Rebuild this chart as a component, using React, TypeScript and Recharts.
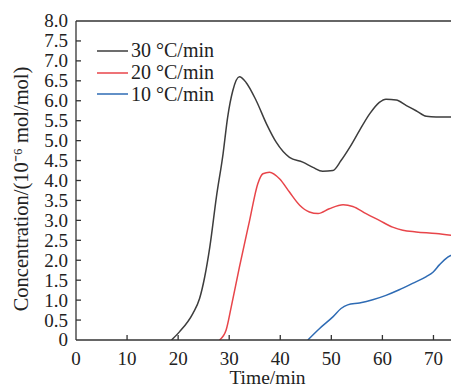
import React from 'react';
import { LineChart, Line, XAxis, YAxis, Legend, ReferenceLine } from 'recharts';

const time30 = [18.7, 20.3, 22.9, 24.2, 25.2, 26.2, 27.5, 28.8, 29.7, 30.7, 32.0, 33.3, 35.3, 37.3, 39.2, 41.8, 44.4, 46.4, 48.3, 50.3, 51.9, 53.6, 55.5, 57.5, 59.4, 60.7, 62.7, 64.7, 66.6, 68.6, 70.5, 75];
const conc30 = [0, 0.21, 0.67, 1.04, 1.58, 2.33, 3.59, 4.67, 5.59, 6.25, 6.6, 6.46, 6.0, 5.42, 4.96, 4.58, 4.46, 4.33, 4.23, 4.25, 4.5, 4.83, 5.25, 5.67, 5.96, 6.04, 6.02, 5.88, 5.75, 5.61, 5.59, 5.59];

const time20 = [28.1, 29.4, 30.4, 32.0, 34.0, 35.6, 36.6, 37.9, 39.9, 41.8, 43.8, 45.7, 47.4, 49.6, 52.3, 54.2, 56.8, 59.4, 62.0, 64.0, 66.6, 70.5, 75];
const conc20 = [0, 0.25, 0.83, 1.83, 3.0, 3.92, 4.17, 4.21, 4.04, 3.71, 3.38, 3.21, 3.17, 3.29, 3.39, 3.35, 3.17, 3.0, 2.83, 2.75, 2.71, 2.67, 2.6];

const time10 = [45.4, 47.7, 50.3, 51.9, 53.2, 55.5, 58.1, 60.7, 63.3, 65.9, 68.6, 69.9, 71.2, 72.8, 75];
const conc10 = [0, 0.29, 0.58, 0.79, 0.88, 0.93, 1.01, 1.12, 1.26, 1.42, 1.59, 1.7, 1.89, 2.08, 2.18];

const seriesNames = ['30 °C/min', '20 °C/min', '10 °C/min'];
const seriesColors = ['#3d3d3d', '#e8454a', '#2e6bb4'];

const xTicks = [0, 10, 20, 30, 40, 50, 60, 70];
const yTicks = [0, 0.5, 1, 1.5, 2, 2.5, 3, 3.5, 4, 4.5, 5, 5.5, 6, 6.5, 7, 7.5, 8];
const xLabel = 'Time/min';
const yLabel = 'Concentration/(10⁻⁶ mol/mol)';

const toData = (ts: number[], vs: number[]) => ts.map((t, i) => ({ t, v: vs[i] }));
const data30 = toData(time30, conc30);
const data20 = toData(time20, conc20);
const data10 = toData(time10, conc10);

const FONT = "'Liberation Serif', 'Times New Roman', serif";
const AXIS = '#333333';
const TXT = '#222222';
const TICK_LEN = 5;

const XTick = (props: any) => {
  const { x, y, payload } = props;
  return (
    <g>
      {payload.value !== 0 && (
        <line x1={x} y1={y} x2={x} y2={y - TICK_LEN} stroke={AXIS} strokeWidth={1.3} />
      )}
      <text x={x} y={y + 25} textAnchor="middle" fill={TXT} style={{ fontSize: 19, fontFamily: FONT }}>
        {String(payload.value)}
      </text>
    </g>
  );
};

const YTick = (props: any) => {
  const { x, y, payload } = props;
  const v = payload.value as number;
  return (
    <g>
      {v !== 0 && v !== 8 && (
        <line x1={x} y1={y} x2={x + TICK_LEN} y2={y} stroke={AXIS} strokeWidth={1.3} />
      )}
      <text x={x - 8} y={y} dy="0.34em" textAnchor="end" fill={TXT} style={{ fontSize: 19, fontFamily: FONT }}>
        {v === 0 ? '0' : v.toFixed(1)}
      </text>
    </g>
  );
};

const YLabel = (props: any) => {
  const vb = props.viewBox || { x: 0, y: 13, width: 68, height: 319 };
  const cx = vb.x + 20;
  const cy = vb.y + vb.height / 2 + 8.5;
  return (
    <text
      x={cx}
      y={cy}
      transform={`rotate(-90, ${cx}, ${cy})`}
      textAnchor="middle"
      fill={TXT}
      style={{ fontSize: 20.5, fontFamily: FONT }}
    >
      {yLabel}
    </text>
  );
};

const renderLegend = () => (
  <div style={{ fontFamily: FONT, fontSize: 20, color: TXT }}>
    {seriesNames.map((n, i) => (
      <div key={n} style={{ display: 'flex', alignItems: 'center', height: 21.7, whiteSpace: 'nowrap' }}>
        <svg width={31} height={4} style={{ marginRight: 3 }}>
          <line x1={0} y1={2} x2={31} y2={2} stroke={seriesColors[i]} strokeWidth={1.5} />
        </svg>
        <span>{n}</span>
      </div>
    ))}
  </div>
);

export default function App() {
  return (
    <LineChart width={451} height={381} margin={{ top: 13, right: 0, left: 0, bottom: 0 }} style={{ fontFamily: FONT }}>
      <XAxis
        type="number"
        dataKey="t"
        domain={[0, 75]}
        ticks={xTicks}
        interval={0}
        allowDataOverflow
        height={49}
        tickSize={0}
        tickMargin={0}
        tickLine={false}
        stroke={AXIS}
        strokeWidth={1.3}
        tick={<XTick />}
        label={{ value: xLabel, position: 'insideBottom', offset: 5, fill: TXT, style: { fontSize: 19.5, fontFamily: FONT } }}
      />
      <YAxis
        type="number"
        domain={[0, 8]}
        ticks={yTicks}
        interval={0}
        allowDataOverflow
        width={68}
        tickSize={0}
        tickMargin={0}
        tickLine={false}
        stroke={AXIS}
        strokeWidth={1.3}
        tick={<YTick />}
        label={<YLabel />}
      />
      <ReferenceLine y={8} stroke={AXIS} strokeWidth={1.3} />
      <Legend
        layout="vertical"
        verticalAlign="middle"
        align="center"
        content={renderLegend}
        wrapperStyle={{ position: 'absolute', left: 89, top: 32, width: 'auto' }}
      />
      <Line data={data30} dataKey="v" name={seriesNames[0]} type="monotone" stroke={seriesColors[0]} strokeWidth={1.5} dot={false} isAnimationActive={false} />
      <Line data={data20} dataKey="v" name={seriesNames[1]} type="monotone" stroke={seriesColors[1]} strokeWidth={1.5} dot={false} isAnimationActive={false} />
      <Line data={data10} dataKey="v" name={seriesNames[2]} type="monotone" stroke={seriesColors[2]} strokeWidth={1.5} dot={false} isAnimationActive={false} />
    </LineChart>
  );
}
